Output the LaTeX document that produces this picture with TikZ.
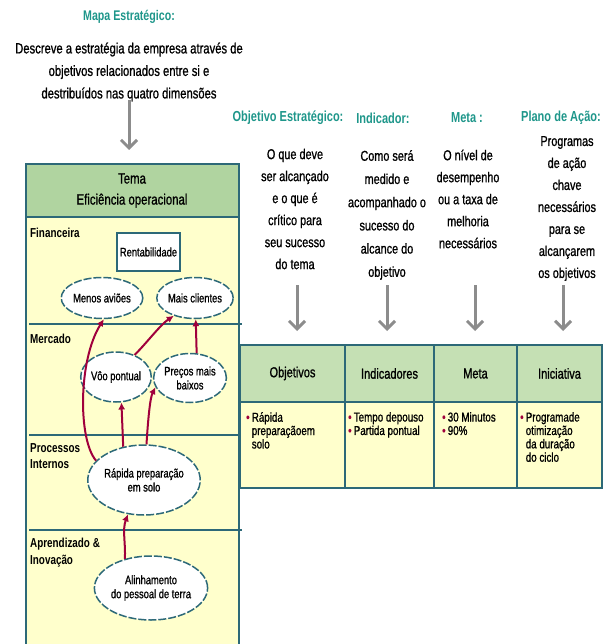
\documentclass[tikz,border=0pt]{standalone}
\usepackage{fontspec}
\setmainfont{Liberation Sans}[FakeStretch=0.76,UprightFeatures={FakeBold=1.0}]
\usetikzlibrary{shapes.geometric,arrows.meta}
\definecolor{tealtxt}{RGB}{30,150,138}
\definecolor{bordc}{RGB}{45,105,120}
\definecolor{hdrgreen}{RGB}{176,212,160}
\definecolor{tblgreen}{RGB}{197,224,180}
\definecolor{paleyel}{RGB}{255,255,204}
\definecolor{arrred}{RGB}{160,0,60}
\definecolor{arrgray}{RGB}{140,140,140}
\newcommand\myfs[2]{\fontsize{#1}{#2}\selectfont}
\tikzset{
  tealhead/.style={text=tealtxt,font=\bfseries\myfs{14.5}{16}},
  desctext/.style={align=center,font=\myfs{14.3}{22},inner sep=0pt},
  grayarrow/.style={draw=arrgray,line width=3pt,-{Straight Barb[length=8pt,width=16pt]}},
  redarrow/.style={draw=arrred,line width=2pt,-{Latex[length=7pt,width=7pt]}},
  obj/.style={ellipse,draw=bordc,fill=white,line width=1.5pt,dash pattern=on 8pt off 2pt,inner sep=0pt,align=center,font=\myfs{12.3}{14}},
  panellabel/.style={anchor=north west,align=left,font=\bfseries\myfs{13}{16.5},inner sep=0pt},
  hcell/.style={draw=bordc,line width=1.2pt,fill=tblgreen,minimum height=57pt,inner sep=0pt,outer sep=0pt,font=\myfs{14.5}{16}},
  bcell/.style={draw=bordc,line width=1.2pt,fill=paleyel,minimum height=86pt,inner sep=0pt,outer sep=0pt},
  celltext/.style={anchor=north west,align=left,inner sep=0pt,font=\myfs{12.9}{13.4}},
}
\newcommand\rb{{\color{arrred}\textbullet}\,}
\begin{document}
\begin{tikzpicture}[x=1pt,y=-1pt]
\useasboundingbox (0,0) rectangle (610,644);
% top texts
\node[tealhead,font=\bfseries\myfs{14}{16}] (mapa) at (129,17) {Mapa Estratégico:};
\node[desctext,font=\myfs{14.8}{22.5}] (desc) at (129,72) {Descreve a estratégia da empresa através de\\objetivos relacionados entre si e\\destribuídos nas quatro dimensões};
\coordinate (g0a) at (129,100);
\coordinate (g0b) at (129,150);
\draw[grayarrow] (g0a) -- (g0b);

% left panel
\node[draw=bordc,line width=1.5pt,fill=paleyel,minimum width=213pt,minimum height=490pt,inner sep=0pt,outer sep=0pt,anchor=north west] (panel) at (26,164) {};
\node[draw=bordc,line width=1.5pt,fill=hdrgreen,minimum width=213pt,minimum height=53pt,inner sep=0pt,outer sep=0pt,anchor=north west] (tema) at (26,164) {};
\node[font=\myfs{15}{21},align=center,inner sep=0pt] (tematxt) at (132,190.5) {Tema\\Eficiência operacional};
\coordinate (d1a) at (29,324); \coordinate (d1b) at (242,324);
\coordinate (d2a) at (29,435); \coordinate (d2b) at (239,435);
\coordinate (d3a) at (29,530); \coordinate (d3b) at (242,530);
\draw[bordc,line width=1.3pt] (d1a) -- (d1b);
\draw[bordc,line width=1.3pt] (d2a) -- (d2b);
\draw[bordc,line width=1.3pt] (d3a) -- (d3b);
\node[panellabel] (fin) at (30,228) {Financeira};
\node[panellabel] (mer) at (30,334) {Mercado};
\node[panellabel] (proc) at (30,443) {Processos\\Internos};
\node[panellabel] (apr) at (30,538) {Aprendizado \&\\Inovação};

\node[draw=bordc,fill=white,line width=1.3pt,minimum width=63pt,minimum height=38pt,inner sep=0pt,font=\myfs{12.3}{14}] (rent) at (148.5,252) {Rentabilidade};
\node[obj,minimum width=60pt,minimum height=41pt] (menos) at (102,298) {Menos aviões};
\node[obj,minimum width=62pt,minimum height=41pt] (mais) at (195,298) {Mais clientes};
\node[obj,minimum width=60pt,minimum height=50pt] (voo) at (116,377) {Vôo pontual};
\node[obj,minimum width=60pt,minimum height=49pt] (precos) at (190,378) {Preços mais\\baixos};
\node[obj,minimum width=86pt,minimum height=70pt] (rapida) at (144,480) {Rápida preparação\\em solo};
\node[obj,minimum width=87pt,minimum height=64pt] (alinh) at (151,588) {Alinhamento\\do pessoal de terra};

\draw[redarrow] (rapida.158) .. controls (78,440) and (78,360) .. (menos.-85);
\draw[redarrow] (voo.50) .. controls (145,345) and (160,325) .. (mais.-140);
\draw[redarrow] (precos.75) -- (mais.-88);
\draw[redarrow] (rapida.122) -- (voo.-78);
\draw[redarrow] (rapida.86) .. controls (148,420) and (150,398) .. (precos.-165);
\draw[redarrow] (alinh.132) .. controls (126,545) and (122,530) .. (rapida.-115);

% right column headers
\node[tealhead] (h_obj) at (288,118) {Objetivo Estratégico:};
\node[tealhead] (h_ind) at (383,118) {Indicador:};
\node[tealhead] (h_meta) at (467,118) {Meta :};
\node[tealhead] (h_plano) at (561,118) {Plano de Ação:};

\node[desctext] (t_obj) at (295,209) {O que deve\\ser alcançado\\e o que é\\crítico para\\seu sucesso\\do tema};
\node[desctext,font=\myfs{14.3}{23.2}] (t_ind) at (387,215) {Como será\\medido e\\acompanhado o\\sucesso do\\alcance do\\objetivo};
\node[desctext] (t_meta) at (468,199) {O nível de\\desempenho\\ou a taxa de\\melhoria\\necessários};
\node[desctext] (t_plano) at (567,208.5) {Programas\\de ação\\chave\\necessários\\para se\\alcançarem\\os objetivos};

\coordinate (a1a) at (297,285); \coordinate (a1b) at (297,331);
\coordinate (a2a) at (387,285); \coordinate (a2b) at (387,331);
\coordinate (a3a) at (475,285); \coordinate (a3b) at (475,331);
\coordinate (a4a) at (563,285); \coordinate (a4b) at (563,331);
\draw[grayarrow] (a1a) -- (a1b);
\draw[grayarrow] (a2a) -- (a2b);
\draw[grayarrow] (a3a) -- (a3b);
\draw[grayarrow] (a4a) -- (a4b);

% table
\node[hcell,minimum width=105pt,anchor=north west] (c1) at (240,345) {Objetivos};
\node[hcell,minimum width=89pt,anchor=north west] (c2) at (345,345) {Indicadores};
\node[hcell,minimum width=83pt,anchor=north west] (c3) at (434,345) {Meta};
\node[hcell,minimum width=85pt,anchor=north west] (c4) at (517,345) {Iniciativa};
\node[bcell,minimum width=105pt,anchor=north west] (b1) at (240,402) {};
\node[bcell,minimum width=89pt,anchor=north west] (b2) at (345,402) {};
\node[bcell,minimum width=83pt,anchor=north west] (b3) at (434,402) {};
\node[bcell,minimum width=85pt,anchor=north west] (b4) at (517,402) {};
\node[celltext] (bt1) at (246,412) {\rb Rápida\\\phantom{\rb}preparaçãoem\\\phantom{\rb}solo};
\node[celltext] (bt2) at (348,412) {\rb Tempo depouso\\\rb Partida pontual};
\node[celltext] (bt3) at (442,412) {\rb 30 Minutos\\\rb 90\%};
\node[celltext] (bt4) at (520,412) {\rb Programade\\\phantom{\rb}otimização\\\phantom{\rb}da duração\\\phantom{\rb}do ciclo};
\end{tikzpicture}
\end{document}
